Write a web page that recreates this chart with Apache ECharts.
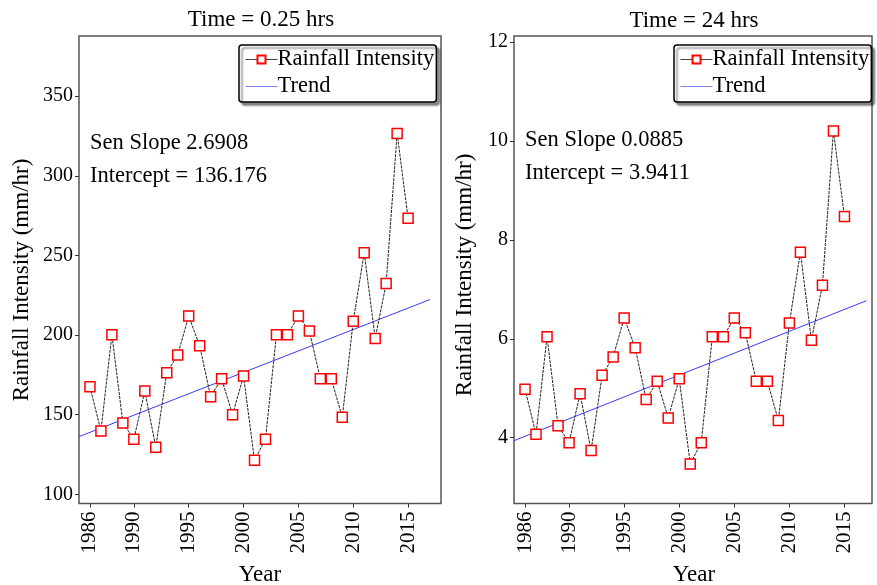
<!DOCTYPE html>
<html><head><meta charset="utf-8">
<script src="https://cdn.jsdelivr.net/npm/echarts@6/dist/echarts.min.js"></script>
<style>html,body{margin:0;padding:0;background:#fff}#c{width:877px;height:585px}</style>
</head><body><div id="c"></div>
<script>
var years = [1986,1987,1988,1989,1990,1991,1992,1993,1994,1995,1996,1997,1998,1999,2000,2001,2002,2003,2004,2005,2006,2007,2008,2009,2010,2011,2012,2013,2014,2015];
var rain025 = [167.5,139.8,200.2,144.8,134.6,164.8,129.6,176.3,187.5,211.9,193.3,161.3,172.5,150.0,174.2,121.3,134.6,200.2,200.2,211.9,202.5,172.5,172.5,148.3,208.7,251.7,197.9,232.3,326.6,273.4];
var rain24 = [4.98,4.07,6.04,4.24,3.90,4.89,3.74,5.26,5.63,6.42,5.82,4.77,5.14,4.40,5.19,3.47,3.90,6.04,6.04,6.42,6.12,5.14,5.14,4.35,6.32,7.75,5.97,7.08,10.20,8.47];
var trendYears = [1985, 2017];
var trend025 = [136.2, 222.3];
var trend24 = [3.94, 6.77];
var xTicks = [1986,1990,1995,2000,2005,2010,2015];
var yTicksL = [100,150,200,250,300,350];
var yTicksR = [4,6,8,10,12];
var titles = ['Time = 0.25 hrs','Time = 24 hrs'];
var notesL = ['Sen Slope 2.6908','Intercept = 136.176'];
var notesR = ['Sen Slope 0.0885','Intercept = 3.9411'];
var yName = 'Rainfall Intensity (mm/hr)';
var xName = 'Year';

function pairs(xs, ys){ return xs.map(function(x,i){return [x, ys[i]];}); }
var FONT = '"Liberation Serif","Times New Roman",serif';

function xAxis(idx){
  return {
    type:'value', gridIndex:idx, min:1985, max: idx===0?2018:2017.5,
    splitLine:{show:false},
    axisLine:{show:false},
    axisTick:{show:true,length:4,inside:false,lineStyle:{color:'#333'},customValues:xTicks},
    axisLabel:{rotate:90,fontFamily:FONT,fontSize:21,color:'#000',margin:8,customValues:xTicks,
      formatter:function(v){return String(v);}}
  };
}
function yAxis(idx, min, max, ticks){
  return {
    type:'value', gridIndex:idx, min:min, max:max,
    splitLine:{show:false},
    axisLine:{show:false},
    axisTick:{show:true,length:4,lineStyle:{color:'#333'},customValues:ticks},
    axisLabel:{fontFamily:FONT,fontSize:20,color:'#000',margin:6,customValues:ticks}
  };
}
function legend(left){
  return {
    left:left, top:45, orient:'vertical',
    data:[
      {name:'Rainfall Intensity', lineStyle:{type:'solid',color:'#444',width:1}},
      {name:'Trend', icon:'path://M0,0H30V1H0Z', itemStyle:{color:'#8080ff'}}
    ],
    itemWidth:32, itemHeight:10, itemGap:4,
    padding:[3,2,4,6],
    backgroundColor:'#fff', borderColor:'#000', borderWidth:1.5, borderRadius:3,
    shadowColor:'rgba(0,0,0,0.45)', shadowOffsetX:3, shadowOffsetY:3, shadowBlur:2,
    textStyle:{fontFamily:FONT,fontSize:22.5,color:'#000',padding:[0,0,0,-5]}
  };
}
function dataSeries(idx, vals){
  return {
    name:'Rainfall Intensity', type:'line', xAxisIndex:idx, yAxisIndex:idx,
    data:pairs(years, vals), symbol:'rect', symbolSize:10,
    itemStyle:{color:'#fff',borderColor:'#ff0000',borderWidth:1.5},
    lineStyle:{color:'#222',width:1,type:[3,1]},
    z:3, animation:false
  };
}
function trendSeries(idx, vals){
  return {
    name:'Trend', type:'line', xAxisIndex:idx, yAxisIndex:idx,
    data:pairs(trendYears, vals), symbol:'none',
    itemStyle:{color:'#3a3aff'},
    lineStyle:{color:'#3a3aff',width:1},
    z:2, animation:false
  };
}
function txt(x,y,s,align,size,rot){
  return {type:'text', x:x, y:y, rotation:rot||0,
    style:{text:s, font:(size||22.5)+'px '+FONT, fill:'#000', textAlign:align||'left', textVerticalAlign:'middle'}};
}

var chart = echarts.init(document.getElementById('c'));
chart.setOption({
  animation:false,
  backgroundColor:'#fff',
  grid:[
    {left:79, right:436, top:36, bottom:81.5, show:true, borderColor:'#555', borderWidth:1.5, backgroundColor:'transparent'},
    {left:514, right:5, top:36, bottom:81.5, show:true, borderColor:'#555', borderWidth:1.5, backgroundColor:'transparent'}
  ],
  xAxis:[xAxis(0), xAxis(1)],
  yAxis:[yAxis(0,94.2,387.8,yTicksL), yAxis(1,2.67,12.12,yTicksR)],
  legend:[legend(239), legend(674)],
  series:[dataSeries(0,rain025), trendSeries(0,trend025), dataSeries(1,rain24), trendSeries(1,trend24)],
  graphic:[
    txt(261,20,titles[0],'center',23), txt(694,21,titles[1],'center',23),
    txt(90,142.7,notesL[0]), txt(90,175.7,notesL[1]),
    txt(525,140,notesR[0]), txt(525,172.7,notesR[1]),
    txt(22,280,yName,'center',23,Math.PI/2), txt(465,275,yName,'center',23,Math.PI/2),
    txt(260,575,xName,'center',23), txt(694,575,xName,'center',23)
  ]
});
</script></body></html>
